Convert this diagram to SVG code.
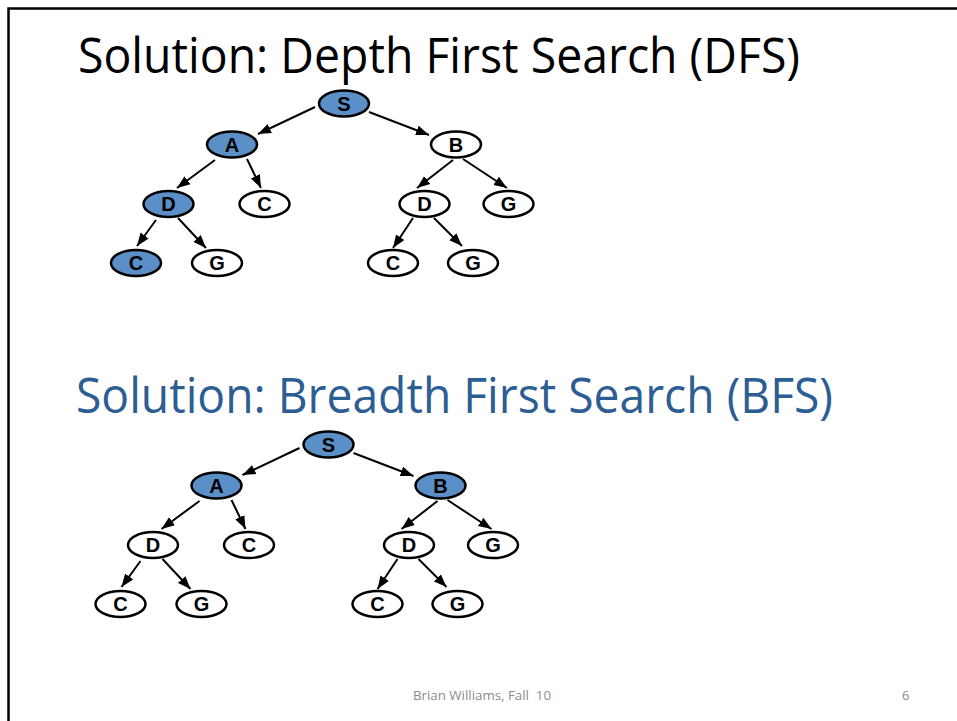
<svg xmlns="http://www.w3.org/2000/svg" width="957" height="721" viewBox="0 0 957 721">
<defs>
<marker id="arr" markerUnits="userSpaceOnUse" markerWidth="14" markerHeight="12" viewBox="0 0 14 12" refX="13" refY="6" orient="auto">
<path d="M0,1 L13,6 L0,11 Z" fill="#000"/>
</marker>
<style>
.n ellipse{stroke:#000;stroke-width:2.5;fill:#fff}
.n.v ellipse{fill:#5b8fc8}
.n text{font-family:"Liberation Sans",Arial,sans-serif;font-weight:bold;font-size:20px;text-anchor:middle;fill:#000}
.e line{stroke:#000;stroke-width:2;marker-end:url(#arr)}
.title{font-family:"Open Sans","Noto Sans",sans-serif;font-size:49px}
.foot{font-family:"Open Sans","Noto Sans",sans-serif;font-size:13px;fill:#8b8b8b}
</style>
</defs>
<rect x="0" y="0" width="957" height="721" fill="#fff"/>
<path d="M8.5,721 V8.5 H957" fill="none" stroke="#000" stroke-width="2.5"/>

<text class="title" x="78" y="73" fill="#000" textLength="722" lengthAdjust="spacingAndGlyphs">Solution: Depth First Search (DFS)</text>
<text class="title" x="76" y="413" fill="#2c5d93" textLength="757" lengthAdjust="spacingAndGlyphs">Solution: Breadth First Search (BFS)</text>

<g id="connectors" class="e">
<line x1="315" y1="107" x2="258" y2="134"/>
<line x1="369" y1="112" x2="429" y2="135"/>
<line x1="215" y1="160" x2="177" y2="188"/>
<line x1="247" y1="159" x2="261" y2="188"/>
<line x1="453" y1="160" x2="417" y2="188"/>
<line x1="463" y1="159" x2="507" y2="188"/>
<line x1="156" y1="220" x2="137" y2="246"/>
<line x1="178" y1="218" x2="206" y2="248"/>
<line x1="413" y1="218" x2="393" y2="248"/>
<line x1="434" y1="218" x2="462" y2="246"/>

<line x1="299.5" y1="448" x2="242.5" y2="475"/>
<line x1="353.5" y1="453" x2="413.5" y2="476"/>
<line x1="199.5" y1="501" x2="161.5" y2="529"/>
<line x1="231.5" y1="500" x2="245.5" y2="529"/>
<line x1="437.5" y1="501" x2="401.5" y2="529"/>
<line x1="447.5" y1="500" x2="491.5" y2="529"/>
<line x1="140.5" y1="561" x2="121.5" y2="587"/>
<line x1="162.5" y1="559" x2="190.5" y2="589"/>
<line x1="397.5" y1="559" x2="377.5" y2="589"/>
<line x1="418.5" y1="559" x2="446.5" y2="587"/>
</g>

<g id="dfs-S" class="n v"><ellipse cx="344" cy="103.5" rx="25" ry="13"/><text x="344" y="110.5">S</text></g>
<g id="dfs-A" class="n v"><ellipse cx="232" cy="144.5" rx="25" ry="13"/><text x="232" y="151.5">A</text></g>
<g id="dfs-B" class="n"><ellipse cx="456" cy="144.5" rx="25" ry="13"/><text x="456" y="151.5">B</text></g>
<g id="dfs-AD" class="n v"><ellipse cx="168.5" cy="204" rx="25" ry="13"/><text x="168.5" y="211">D</text></g>
<g id="dfs-AC" class="n"><ellipse cx="264.5" cy="204" rx="25" ry="13"/><text x="264.5" y="211">C</text></g>
<g id="dfs-BD" class="n"><ellipse cx="424.5" cy="204" rx="25" ry="13"/><text x="424.5" y="211">D</text></g>
<g id="dfs-BG" class="n"><ellipse cx="508.5" cy="204" rx="25" ry="13"/><text x="508.5" y="211">G</text></g>
<g id="dfs-ADC" class="n v"><ellipse cx="136" cy="263" rx="25" ry="13"/><text x="136" y="270">C</text></g>
<g id="dfs-ADG" class="n"><ellipse cx="217" cy="263" rx="25" ry="13"/><text x="217" y="270">G</text></g>
<g id="dfs-BDC" class="n"><ellipse cx="393" cy="263" rx="25" ry="13"/><text x="393" y="270">C</text></g>
<g id="dfs-BDG" class="n"><ellipse cx="473" cy="263" rx="25" ry="13"/><text x="473" y="270">G</text></g>

<g id="bfs-S" class="n v"><ellipse cx="328.5" cy="444.5" rx="25" ry="13"/><text x="328.5" y="451.5">S</text></g>
<g id="bfs-A" class="n v"><ellipse cx="216.5" cy="485.5" rx="25" ry="13"/><text x="216.5" y="492.5">A</text></g>
<g id="bfs-B" class="n v"><ellipse cx="440.5" cy="485.5" rx="25" ry="13"/><text x="440.5" y="492.5">B</text></g>
<g id="bfs-AD" class="n"><ellipse cx="153" cy="545" rx="25" ry="13"/><text x="153" y="552">D</text></g>
<g id="bfs-AC" class="n"><ellipse cx="249" cy="545" rx="25" ry="13"/><text x="249" y="552">C</text></g>
<g id="bfs-BD" class="n"><ellipse cx="409" cy="545" rx="25" ry="13"/><text x="409" y="552">D</text></g>
<g id="bfs-BG" class="n"><ellipse cx="493" cy="545" rx="25" ry="13"/><text x="493" y="552">G</text></g>
<g id="bfs-ADC" class="n"><ellipse cx="120.5" cy="604" rx="25" ry="13"/><text x="120.5" y="611">C</text></g>
<g id="bfs-ADG" class="n"><ellipse cx="201.5" cy="604" rx="25" ry="13"/><text x="201.5" y="611">G</text></g>
<g id="bfs-BDC" class="n"><ellipse cx="377.5" cy="604" rx="25" ry="13"/><text x="377.5" y="611">C</text></g>
<g id="bfs-BDG" class="n"><ellipse cx="457.5" cy="604" rx="25" ry="13"/><text x="457.5" y="611">G</text></g>

<text class="foot" x="413" y="700" xml:space="preserve" textLength="138" lengthAdjust="spacingAndGlyphs">Brian Williams, Fall  10</text>
<text class="foot" x="902" y="700">6</text>
</svg>
